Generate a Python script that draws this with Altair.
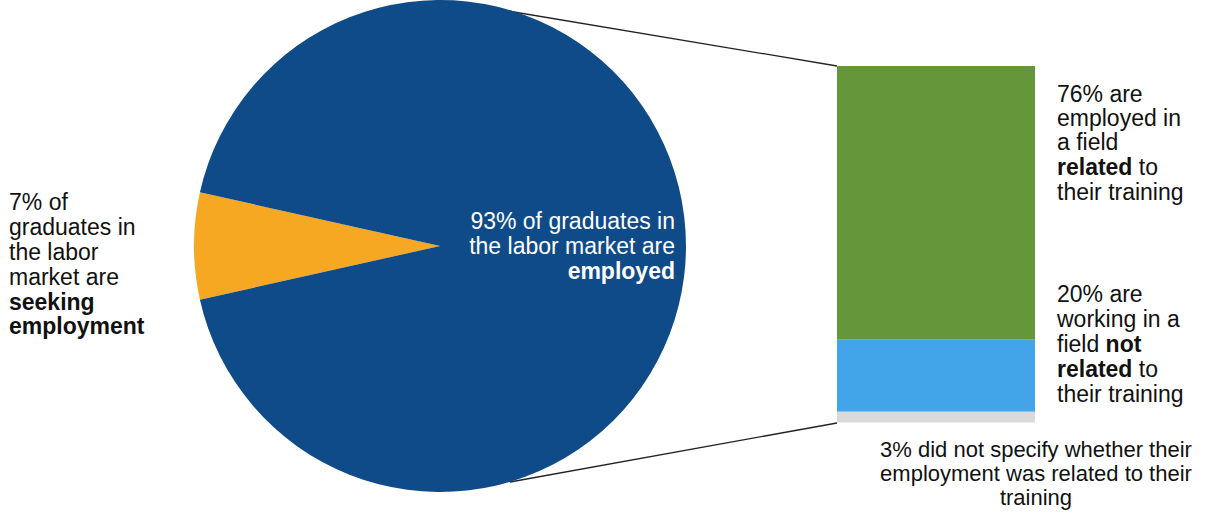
import math
import altair as alt
import pandas as pd

# ---- data ----
pie_labels = ["Seeking employment", "Employed"]
pie_values = [7, 93]
pie_colors = ["#F7A823", "#0F4B88"]

bar_labels = ["Related to training", "Not related to training", "Not specified"]
bar_values = [76, 20, 3]
bar_colors = ["#66963A", "#42A5EA", "#DADADA"]

left_lines = ["7% of", "graduates in", "the labor", "market are", "seeking", "employment"]
left_bold = [False, False, False, False, True, True]
center_lines = ["93% of graduates in", "the labor market are", "employed"]
center_bold = [False, False, True]
bottom_lines = ["3% did not specify whether their", "employment was related to their", "training"]

FONT = "Liberation Sans"
FS = 23

pie_df = pd.DataFrame({"label": pie_labels, "value": pie_values, "k": list(range(len(pie_labels)))})
bar_df = pd.DataFrame({"label": bar_labels, "value": bar_values, "k": list(range(len(bar_labels)))})

# pie: orange slice centred on the left (270 deg in Vega's clockwise-from-top convention)
half = pie_values[0] / 100 * math.pi
start = 1.5 * math.pi - half

pie = alt.Chart(pie_df).mark_arc(outerRadius=246, stroke=None).encode(
    theta=alt.Theta("value:Q", stack=True, scale=alt.Scale(range=[start, start + 2 * math.pi])),
    color=alt.Color("label:N", scale=alt.Scale(domain=pie_labels, range=pie_colors), legend=None),
    order=alt.Order("k:Q"),
    x=alt.value(440),
    y=alt.value(246),
)

total = sum(bar_values)
bar = alt.Chart(bar_df).transform_stack(
    stack="value", groupby=[], as_=["y0", "y1"], sort=[alt.SortField("k", order="ascending")]
).mark_rect().encode(
    y=alt.Y("y0:Q", scale=alt.Scale(domain=[0, total], range=[66, 422.5]), axis=None),
    y2="y1:Q",
    x=alt.value(837),
    x2=alt.value(1035),
    color=alt.Color("label:N", scale=alt.Scale(domain=bar_labels, range=bar_colors), legend=None),
)

one = pd.DataFrame({"a": [0]})

def line(x1, y1, x2, y2):
    return alt.Chart(one).mark_rule(color="#222222", strokeWidth=1.3).encode(
        x=alt.value(x1), y=alt.value(y1), x2=alt.value(x2), y2=alt.value(y2)
    )

def txt(s, x, y, bold=False, align="left", color="#111111", fs=FS):
    return alt.Chart(one).mark_text(
        text=s, align=align, baseline="middle", font=FONT, fontSize=fs,
        fontWeight="bold" if bold else "normal", color=color,
    ).encode(x=alt.value(x), y=alt.value(y))

layers = [line(508, 11, 837, 66), line(510, 482, 837, 423), pie, bar]

left_y = [203, 228, 253, 278, 303, 327]
for s, b, yy in zip(left_lines, left_bold, left_y):
    layers.append(txt(s, 9, yy, b))

center_y = [222, 247, 272]
for s, b, yy in zip(center_lines, center_bold, center_y):
    layers.append(txt(s, 675, yy, b, align="right", color="white"))

# right label 1
RX = 1057
wb_related = 3.279 * FS
w_space = 0.278 * FS
r1 = [95, 119, 143, 168, 193]
layers += [
    txt("76% are", RX, r1[0]),
    txt("employed in", RX, r1[1]),
    txt("a field", RX, r1[2]),
    txt("related", RX, r1[3], True),
    txt("to", RX + wb_related + w_space, r1[3]),
    txt("their training", RX, r1[4]),
]
# right label 2
r2 = [295, 320, 345, 370, 395]
w_field = 1.834 * FS
layers += [
    txt("20% are", RX, r2[0]),
    txt("working in a", RX, r2[1]),
    txt("field", RX, r2[2]),
    txt("not", RX + w_field + w_space, r2[2], True),
    txt("related", RX, r2[3], True),
    txt("to", RX + wb_related + w_space, r2[3]),
    txt("their training", RX, r2[4]),
]
bottom_y = [450, 474, 498]
for s, yy in zip(bottom_lines, bottom_y):
    layers.append(txt(s, 1036, yy, align="center", fs=22))

chart = alt.layer(*layers).resolve_scale(color="independent").properties(
    width=1215, height=513, padding=0, autosize="none"
).configure_view(stroke=None)

chart.save("out.html", embed_options={"renderer": "svg", "actions": False})
